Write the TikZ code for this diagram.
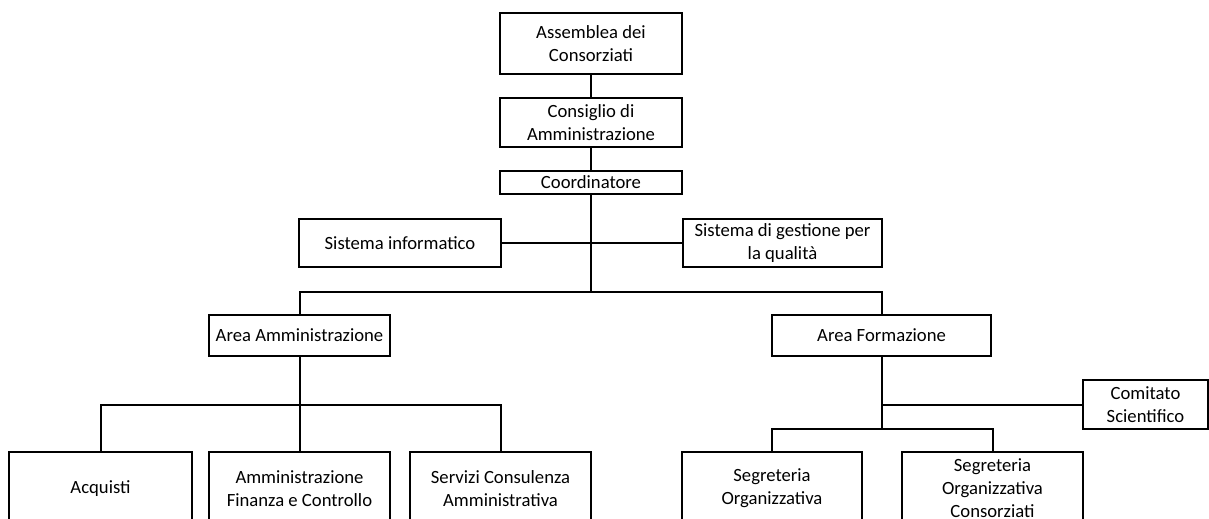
\documentclass[tikz,border=0pt]{standalone}
\usepackage{fontspec}
\setmainfont{Carlito}
\tikzset{
    unit/.style={draw, line width=1.5pt, align=center, inner sep=0pt,
        font=\fontsize{14pt}{17.25pt}\selectfont},
    link/.style={line width=1.5pt}
}

\begin{document}
\begin{tikzpicture}[x=0.75pt, y=-0.75pt]
        % One pixel of the chart
        \def\s{0.75pt}
        % Fix the page size
        \clip (0,0) rectangle (1209,518);
        \useasboundingbox (0,0) rectangle (1209,518);

        % Top of the chart
        \node[unit, minimum width=182*\s, minimum height=61*\s] (ass) at (591,43.5) {Assemblea dei\\Consorziati};
        \node[unit, minimum width=182*\s, minimum height=49*\s] (cda) at (591,122.5) {Consiglio di\\Amministrazione};
        \node[unit, minimum width=182*\s, minimum height=23*\s] (coord) at (591,182.5) {Coordinatore};

        % Staff units
        \node[unit, minimum width=202*\s, minimum height=48*\s] (sinf) at (400,243) {Sistema informatico};
        \node[unit, minimum width=199*\s, minimum height=48*\s] (sgq) at (782.5,243) {Sistema di gestione per\\la qualità};

        % Areas
        \node[unit, minimum width=181*\s, minimum height=41*\s] (aamm) at (299.5,335.5) {Area Amministrazione};
        \node[unit, minimum width=219*\s, minimum height=41*\s] (aform) at (881.5,335.5) {Area Formazione};
        \node[unit, minimum width=125*\s, minimum height=49*\s] (com) at (1145.5,404.5) {Comitato\\Scientifico};

        % Offices
        \node[unit, minimum width=183*\s, minimum height=73*\s] (acq) at (100.5,488.5) {Acquisti};
        \node[unit, minimum width=181*\s, minimum height=73*\s] (afc) at (299.5,488.5) {Amministrazione\\Finanza e Controllo};
        \node[unit, minimum width=181*\s, minimum height=73*\s] (sca) at (500.5,488.5) {Servizi Consulenza\\Amministrativa};
        \node[unit, minimum width=180*\s, minimum height=73*\s] (so) at (772,488.5) {Segreteria\\Organizzativa};
        \node[unit, minimum width=181*\s, minimum height=73*\s] (soc) at (992.5,488.5) {Segreteria\\Organizzativa\\Consorziati};

        % Junctions of the lines
        \coordinate (J_1) at (591,292);
        \coordinate (J_2) at (299.5,405);
        \coordinate (J_3) at (881.5,429);

        % Draw the links
        \draw[link] (ass) -- (cda);
        \draw[link] (cda) -- (coord);
        \draw[link] (coord.south) -- (J_1);
        \draw[link] (sinf.east) -- (sgq.west);
        \draw[link] (aamm.north) |- (J_1) -| (aform.north);
        \draw[link] (aamm.south) -- (J_2);
        \draw[link] (acq.north) |- (J_2) -| (sca.north);
        \draw[link] (J_2) -- (afc.north);
        \draw[link] (aform.south) -- (J_3);
        \draw[link] (aform.south |- com.west) -- (com.west);
        \draw[link] (so.north) |- (J_3) -| (soc.north);
\end{tikzpicture}
\end{document}
